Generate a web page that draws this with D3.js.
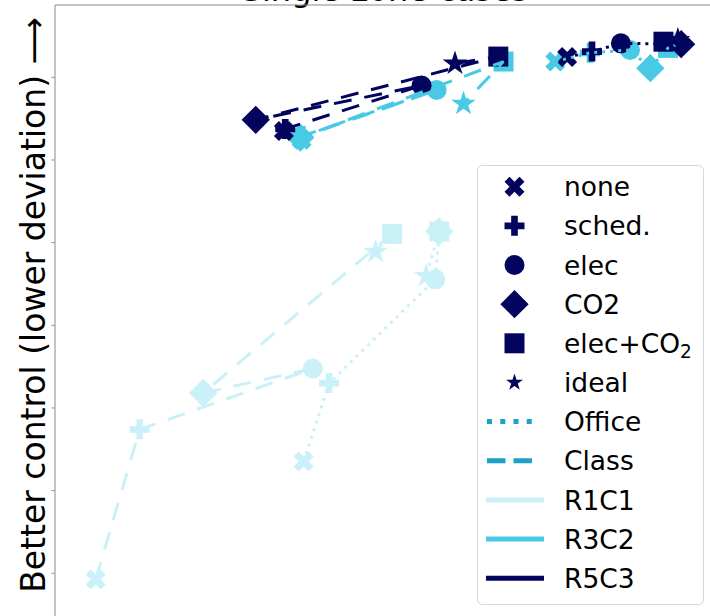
<!DOCTYPE html>
<html>
<head>
<meta charset="utf-8">
<script src="https://cdn.jsdelivr.net/npm/d3@7"></script>
<style>
  html, body { margin: 0; padding: 0; background: #fff; }
  svg { display: block; font-family: "DejaVu Sans", sans-serif; }
</style>
</head>
<body>
<svg id="chart" width="710" height="616"></svg>
<script>
// Control strategies, in the order each curve visits them
const controls = ["none", "sched.", "elec", "CO2", "elec+CO2", "ideal"];
const buildings = ["Office", "Class"];
const models = ["R1C1", "R3C2", "R5C3"];

// Cost (x) and comfort deviation (y) per strategy
const officeR1C1Cost = [38.0, 41.9, 58.1, 58.7, 58.7, 56.7];
const officeR1C1Dev  = [11.31, 9.41, 6.90, 5.74, 5.74, 6.82];
const classR1C1Cost  = [6.3, 13.0, 39.4, 22.7, 51.5, 49.0];
const classR1C1Dev   = [14.16, 10.53, 9.06, 9.65, 5.80, 6.23];
const officeR3C2Cost = [76.4, 81.7, 87.8, 90.9, 93.6, 94.7];
const officeR3C2Dev  = [1.63, 1.42, 1.35, 1.79, 1.30, 1.23];
const classR3C2Cost  = [37.7, 37.8, 58.3, 37.5, 68.5, 62.4];
const classR3C2Dev   = [3.52, 3.43, 2.32, 3.47, 1.63, 2.65];
const officeR5C3Cost = [78.2, 82.0, 86.4, 95.6, 92.9, 95.1];
const officeR5C3Dev  = [1.52, 1.39, 1.19, 1.21, 1.15, 1.11];
const classR5C3Cost  = [35.0, 35.2, 56.0, 30.7, 67.7, 61.1];
const classR5C3Dev   = [3.31, 3.26, 2.21, 3.04, 1.51, 1.68];

const yTicks = [2, 4, 6, 8, 10, 12, 14];

const modelColor = { R1C1: "#caf0f8", R3C2: "#48cae4", R5C3: "#03045e" };
const buildingDash = { Office: "3,5", Class: "18,13" };
const legendLineColor = "#1ea1c6";

const series = [
  { building: "Office", model: "R1C1", cost: officeR1C1Cost, dev: officeR1C1Dev },
  { building: "Class",  model: "R1C1", cost: classR1C1Cost,  dev: classR1C1Dev },
  { building: "Office", model: "R3C2", cost: officeR3C2Cost, dev: officeR3C2Dev },
  { building: "Class",  model: "R3C2", cost: classR3C2Cost,  dev: classR3C2Dev },
  { building: "Office", model: "R5C3", cost: officeR5C3Cost, dev: officeR5C3Dev },
  { building: "Class",  model: "R5C3", cost: classR5C3Cost,  dev: classR5C3Dev }
].map(s => ({
  ...s,
  points: controls.map((c, i) => ({ control: c, x: s.cost[i], y: s.dev[i] }))
}));

// Filled marker shapes; "size" is the squared marker extent in px
const poly = (ctx, pts) => {
  ctx.moveTo(pts[0][0], pts[0][1]);
  for (let i = 1; i < pts.length; i++) ctx.lineTo(pts[i][0], pts[i][1]);
  ctx.closePath();
};
const markerTypes = {
  "none": { draw(ctx, size) {
    const s = Math.sqrt(size) / 4;
    poly(ctx, [[-1,-2],[0,-1],[1,-2],[2,-1],[1,0],[2,1],[1,2],[0,1],[-1,2],[-2,1],[-1,0],[-2,-1]].map(p => [p[0]*s, p[1]*s]));
  }},
  "sched.": { draw(ctx, size) {
    const s = Math.sqrt(size) / 6;
    poly(ctx, [[-1,-3],[1,-3],[1,-1],[3,-1],[3,1],[1,1],[1,3],[-1,3],[-1,1],[-3,1],[-3,-1],[-1,-1]].map(p => [p[0]*s, p[1]*s]));
  }},
  "elec": { draw(ctx, size) {
    const r = Math.sqrt(size) / 2;
    ctx.moveTo(r, 0);
    ctx.arc(0, 0, r, 0, 2 * Math.PI);
  }},
  "CO2": { draw(ctx, size) {
    const r = Math.sqrt(size) * Math.SQRT1_2;
    poly(ctx, [[0,-r],[r,0],[0,r],[-r,0]]);
  }},
  "elec+CO2": { draw(ctx, size) {
    const h = Math.sqrt(size) / 2;
    poly(ctx, [[-h,-h],[h,-h],[h,h],[-h,h]]);
  }},
  "ideal": { draw(ctx, size) {
    const R = Math.sqrt(size) / 2, r = R * 0.381966;
    const pts = [];
    for (let i = 0; i < 10; i++) {
      const a = -Math.PI / 2 + i * Math.PI / 5;
      const rad = i % 2 === 0 ? R : r;
      pts.push([rad * Math.cos(a), rad * Math.sin(a)]);
    }
    poly(ctx, pts);
  }}
};
const plotMarkerSize = c => (c === "ideal" ? 26 : 20);
const legendMarkerSize = c => (c === "ideal" ? 18 : 20);

const svg = d3.select("#chart");

const x = d3.scaleLinear().domain([0, 100]).range([54.5, 710]);
const y = d3.scaleLinear().domain([0.25, 15.25]).range([4.5, 4.5 + 15 * 41.33]);

// Title, sitting just above the frame
svg.append("text")
  .attr("x", 385).attr("y", 0.5)
  .attr("text-anchor", "middle")
  .attr("font-size", 32)
  .attr("fill", "#000")
  .text("Single-zone cases");

// Frame: left axis with unlabeled ticks and the top spine
const yAxis = svg.append("g")
  .attr("transform", `translate(${x.range()[0]},0)`)
  .call(d3.axisLeft(y).tickValues(yTicks).tickFormat("").tickSize(3).tickSizeOuter(0));
yAxis.select(".domain").attr("stroke", "#8a8a8a");
yAxis.selectAll(".tick line").attr("stroke", "#8a8a8a");

const topAxis = svg.append("g")
  .attr("transform", `translate(0,${y.range()[0]})`)
  .call(d3.axisTop(x).tickValues([]).tickSizeOuter(0));
topAxis.select(".domain").attr("stroke", "#8a8a8a");

// Y-axis title
svg.append("text")
  .attr("transform", "translate(45,305) rotate(-90)")
  .attr("text-anchor", "middle")
  .attr("font-size", 33)
  .attr("fill", "#000")
  .text("Better control (lower deviation) \u27F6");

const plot = svg.append("g");

// Markers first, connecting lines above them
const markerLayer = plot.append("g");
series.forEach(s => {
  markerLayer.append("g").selectAll("path")
    .data(s.points)
    .join("path")
    .attr("transform", d => `translate(${x(d.x)},${y(d.y)})`)
    .attr("d", d => d3.symbol(markerTypes[d.control], plotMarkerSize(d.control) ** 2)())
    .attr("fill", modelColor[s.model]);
});

const line = d3.line().x(d => x(d.x)).y(d => y(d.y));
const lineLayer = plot.append("g");
series.forEach(s => {
  lineLayer.append("path")
    .datum(s.points)
    .attr("d", line)
    .attr("fill", "none")
    .attr("stroke", modelColor[s.model])
    .attr("stroke-width", 3)
    .attr("stroke-dasharray", buildingDash[s.building]);
});

// Legend
const lg = svg.append("g").attr("transform", "translate(477,165)");
lg.append("rect")
  .attr("x", 0.5).attr("y", 0.5)
  .attr("width", 226).attr("height", 439)
  .attr("rx", 5)
  .attr("fill", "#fff").attr("fill-opacity", 0.8)
  .attr("stroke", "#d6d6d6");

const rowY = i => 21.7 + i * 39.15;
const handleX0 = 9, handleX1 = 67, markX = 37.5, textX = 87;
const fs = 26.5;

controls.forEach((c, i) => {
  lg.append("path")
    .attr("transform", `translate(${markX},${rowY(i)})`)
    .attr("d", d3.symbol(markerTypes[c], legendMarkerSize(c) ** 2)())
    .attr("fill", modelColor.R5C3);
  const t = lg.append("text")
    .attr("x", textX).attr("y", rowY(i) + 9.6)
    .attr("font-size", fs).attr("fill", "#000");
  if (c === "elec+CO2") {
    t.append("tspan").text("elec+CO");
    t.append("tspan").attr("font-size", fs * 0.7).attr("dy", 5).text("2");
  } else {
    t.text(c);
  }
});

buildings.forEach((b, j) => {
  const i = controls.length + j;
  lg.append("line")
    .attr("x1", 10).attr("x2", 58)
    .attr("y1", rowY(i)).attr("y2", rowY(i))
    .attr("stroke", legendLineColor)
    .attr("stroke-width", 5)
    .attr("stroke-dasharray", b === "Office" ? "5,8.25" : "18.5,8");
  lg.append("text")
    .attr("x", textX).attr("y", rowY(i) + 9.6)
    .attr("font-size", fs).attr("fill", "#000")
    .text(b);
});

models.forEach((m, j) => {
  const i = controls.length + buildings.length + j;
  lg.append("line")
    .attr("x1", handleX0).attr("x2", handleX1)
    .attr("y1", rowY(i)).attr("y2", rowY(i))
    .attr("stroke", modelColor[m])
    .attr("stroke-width", 5);
  lg.append("text")
    .attr("x", textX).attr("y", rowY(i) + 9.6)
    .attr("font-size", fs).attr("fill", "#000")
    .text(m);
});
</script>
</body>
</html>
